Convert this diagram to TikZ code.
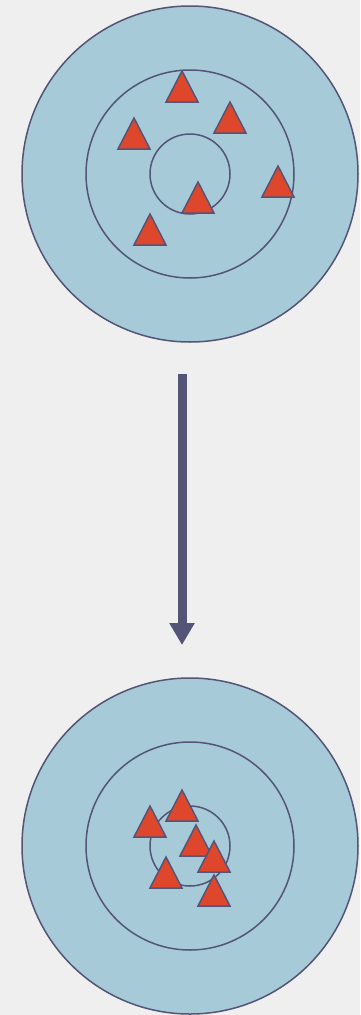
\documentclass[tikz,border=0pt]{standalone}
\usetikzlibrary{arrows.meta}
\definecolor{paper}{HTML}{EFEFEF}
\definecolor{ringfill}{HTML}{A6CAD8}
\definecolor{ink}{HTML}{545477}
\definecolor{marker}{HTML}{DF472C}
\tikzset{
  ring/.style={circle, draw=ink, line width=1.5pt, inner sep=0pt},
  outerring/.style={ring, fill=ringfill, minimum size=336pt},
  midring/.style={ring, minimum size=208pt},
  innerring/.style={ring, minimum size=80pt},
  tri/.style={draw=ink, fill=marker, line width=1.5pt, line join=miter},
  hit/.pic={\draw[tri] (0,0) -- (16,31) -- (-16,31) -- cycle;},
  flow/.style={draw=ink, line width=9pt, -{Triangle[width=24pt,length=22pt]}}
}
\begin{document}
\begin{tikzpicture}[x=1pt,y=-1pt]
  \fill[paper] (0,0) rectangle (360,1015);
  \useasboundingbox (0,0) rectangle (360,1015);

  % upper target: scattered hits
  \node[outerring] (outerTop) at (190,174) {};
  \node[midring]   (midTop)   at (190,174) {};
  \node[innerring] (innerTop) at (190,174) {};
  \pic at (182,71)  {hit};
  \pic at (230,102) {hit};
  \pic at (134,118) {hit};
  \pic at (278,166) {hit};
  \pic at (198,182) {hit};
  \pic at (150,214) {hit};

  % lower target: grouped hits
  \node[outerring] (outerBot) at (190,846) {};
  \node[midring]   (midBot)   at (190,846) {};
  \node[innerring] (innerBot) at (190,846) {};
  \pic at (182,790) {hit};
  \pic at (150,806) {hit};
  \pic at (196,825) {hit};
  \pic at (214,841) {hit};
  \pic at (166,857) {hit};
  \pic at (214,875) {hit};

  % arrow between the targets
  \coordinate (arrowStart) at (182,374);
  \coordinate (arrowEnd)   at (182,645);
  \draw[flow] (arrowStart) -- (arrowEnd);
\end{tikzpicture}
\end{document}
